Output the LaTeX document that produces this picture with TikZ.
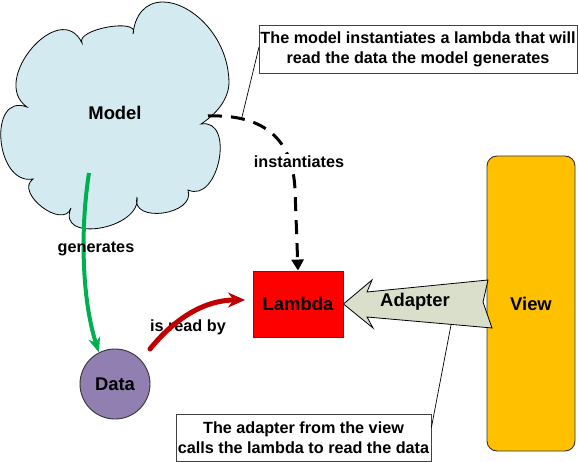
\documentclass[tikz,border=0pt]{standalone}
\usepackage{fontspec}
\setmainfont{Liberation Sans}
\usetikzlibrary{arrows.meta,positioning}

\definecolor{cloudblue}{RGB}{210,234,240}
\definecolor{viewgold}{RGB}{255,192,0}
\definecolor{adaptergrey}{RGB}{217,223,203}
\definecolor{datapurple}{RGB}{145,127,177}
\definecolor{gengreen}{RGB}{0,176,80}
\definecolor{readred}{RGB}{192,0,0}

\begin{document}
\begin{tikzpicture}[x=1pt,y=1pt,
    big/.style={font=\fontsize{18.4}{21}\selectfont\bfseries},
    small/.style={font=\fontsize{16.2}{20}\selectfont\bfseries},
    note/.style={small,draw=black!75,line width=0.8pt,fill=white,align=center,inner sep=0pt},
    boxed/.style={draw=black!80,line width=0.9pt}]
    \useasboundingbox (0,0) rectangle (578,-462);

    % the model cloud
    \draw[fill=cloudblue,line width=0.8pt] (133,-34)
        .. controls (135,-15) and (145,-2) .. (163,-2)
        .. controls (190,-2) and (228,-35) .. (229,-82)
        .. controls (229,-100) and (215,-115) .. (201,-124)
        .. controls (235.6,-118.1) and (218.8,-203.9) .. (188,-190)
        .. controls (196.3,-215) and (130,-224) .. (137,-197)
        .. controls (141.6,-229.4) and (55.8,-243.7) .. (71,-208)
        .. controls (63.4,-230.4) and (14,-192.7) .. (33,-179)
        .. controls (-4.8,-185.8) and (-12.6,-92.2) .. (27,-107)
        .. controls (-11.3,-80.6) and (60.3,2.6) .. (82,-43)
        .. controls (75,-29) and (141.3,-17.4) .. cycle;
    \node[big] (model) at (115,-113) {Model};

    % note on the lambda
    \coordinate (leadone) at (242,-117);
    \draw[line width=0.7pt] (259,-47) -- (leadone);
    \node[note,minimum width=318pt,minimum height=48pt] (noteone) at (418,-49)
        {The model instantiates a lambda that will\\read the data the model generates};

    \node[boxed,fill=red,minimum width=90pt,minimum height=66pt,big] (lambda) at (298,-304) {Lambda};

    \coordinate (instfrom) at (208,-116);
    \draw[line width=3pt,dash pattern=on 14pt off 9pt,-{Triangle[length=11pt,width=12pt]}]
        (instfrom) .. controls (265,-114) and (293,-140) .. (295,-190) -- (lambda.north);
    \node[small,fill=white,inner sep=2pt] (inst) at (299,-162) {instantiates};

    % view and adapter
    \node[boxed,fill=viewgold,rounded corners=10pt,minimum width=88pt,minimum height=295pt,big] (view) at (531,-303.5) {View};
    \draw[fill=adaptergrey,line width=0.8pt] (lambda.east) -- (372,-280) -- (367,-292) -- (488,-280)
        -- (483,-302) -- (492,-328) -- (367,-317) -- (373,-328) -- cycle;
    \node[big] (adapter) at (415,-302) {Adapter};

    \coordinate (leadtwo) at (451,-325);
    \node[note,minimum width=255pt,minimum height=47pt] (notetwo) at (303.5,-437.5)
        {The adapter from the view\\calls the lambda to read the data};
    \draw[line width=0.7pt] ([yshift=10pt]notetwo.east) -- (leadtwo);

    % data
    \node[circle,boxed,fill=datapurple,minimum size=70pt,big] (data) at (115,-384) {Data};

    \coordinate (genfrom) at (89,-173);
    \draw[gengreen,line width=4pt,-{Stealth[length=15pt,width=12pt]}]
        (genfrom) .. controls (80,-230) and (82,-300) .. (data.117);
    \node[small] (gen) at (96,-249) {generates};

    \node[small] (read) at (188,-327) {is read by};
    \coordinate (readfrom) at (150,-349);
    \coordinate (readto) at (245,-300);
    \draw[readred,line width=5pt,line cap=round,-{Stealth[length=17pt,width=15pt]}]
        (readfrom) .. controls (175,-318) and (205,-300) .. (readto);
\end{tikzpicture}
\end{document}
